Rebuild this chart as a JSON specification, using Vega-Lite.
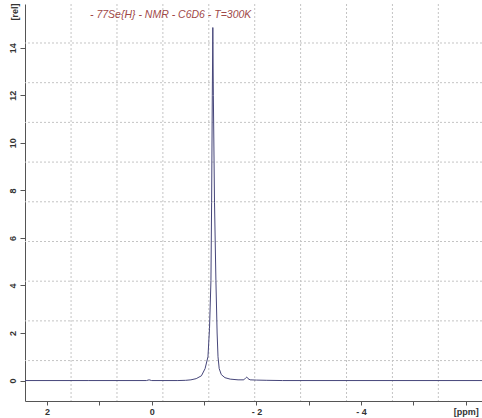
{
  "$schema": "https://vega.github.io/schema/vega-lite/v6.json",
  "width": 457,
  "height": 397,
  "autosize": {"type": "none"},
  "padding": {"left": 25, "top": 4, "right": 0, "bottom": 17},
  "background": "white",
  "config": {"view": {"stroke": null}},
  "title": {
    "text": "- 77Se{H} - NMR - C6D6 - T=300K",
    "anchor": "start",
    "frame": "group",
    "orient": "top",
    "offset": -26,
    "dx": 65,
    "baseline": "alphabetic",
    "font": "Liberation Sans",
    "fontSize": 10.5,
    "fontStyle": "italic",
    "fontWeight": "normal",
    "color": "#a04848"
  },
  "datasets": {
    "spectrum": [
      {"ppm": 2.42, "rel": 0},
      {"ppm": 1.2, "rel": 0},
      {"ppm": 0.1, "rel": 0},
      {"ppm": 0.05, "rel": 0.03},
      {"ppm": 0.0, "rel": 0},
      {"ppm": -0.5, "rel": 0},
      {"ppm": -0.65, "rel": 0.01},
      {"ppm": -0.75, "rel": 0.03},
      {"ppm": -0.85, "rel": 0.08},
      {"ppm": -0.95, "rel": 0.2},
      {"ppm": -1.02, "rel": 0.5},
      {"ppm": -1.075, "rel": 1.0},
      {"ppm": -1.105, "rel": 2.2},
      {"ppm": -1.132, "rel": 4.2},
      {"ppm": -1.145, "rel": 7.5},
      {"ppm": -1.158, "rel": 12},
      {"ppm": -1.168, "rel": 14.85},
      {"ppm": -1.178, "rel": 12},
      {"ppm": -1.2, "rel": 7.5},
      {"ppm": -1.227, "rel": 4.2},
      {"ppm": -1.25, "rel": 2.0},
      {"ppm": -1.267, "rel": 1.0},
      {"ppm": -1.29, "rel": 0.5},
      {"ppm": -1.33, "rel": 0.25},
      {"ppm": -1.4, "rel": 0.12},
      {"ppm": -1.5, "rel": 0.06},
      {"ppm": -1.65, "rel": 0.03},
      {"ppm": -1.76, "rel": 0.03},
      {"ppm": -1.8, "rel": 0.12},
      {"ppm": -1.815, "rel": 0.15},
      {"ppm": -1.84, "rel": 0.08},
      {"ppm": -1.88, "rel": 0.03},
      {"ppm": -2.0, "rel": 0.02},
      {"ppm": -2.2, "rel": 0.01},
      {"ppm": -2.5, "rel": 0},
      {"ppm": -6.31, "rel": 0}
    ],
    "vgrid": [
      {"ppm": 1.54}, {"ppm": 0.663}, {"ppm": -0.214}, {"ppm": -1.091}, {"ppm": -1.968},
      {"ppm": -2.845}, {"ppm": -3.722}, {"ppm": -4.599}, {"ppm": -5.476}
    ],
    "hgrid": [
      {"rel": 0.84}, {"rel": 2.51}, {"rel": 4.18}, {"rel": 5.85}, {"rel": 7.52},
      {"rel": 9.19}, {"rel": 10.86}, {"rel": 12.53}, {"rel": 14.2}
    ]
  },
  "layer": [
    {
      "data": {"name": "vgrid"},
      "mark": {"type": "rule", "color": "#c4c4c4", "strokeWidth": 1, "strokeDash": [2, 2]},
      "encoding": {
        "x": {"field": "ppm", "type": "quantitative", "scale": {"domain": [-6.31, 2.42], "reverse": true, "nice": false, "zero": false}}
      }
    },
    {
      "data": {"name": "hgrid"},
      "mark": {"type": "rule", "color": "#c4c4c4", "strokeWidth": 1, "strokeDash": [2, 2]},
      "encoding": {
        "y": {"field": "rel", "type": "quantitative", "scale": {"domain": [-0.86, 15.84], "nice": false, "zero": false}}
      }
    },
    {
      "data": {"name": "spectrum"},
      "mark": {"type": "line", "color": "#46467a", "strokeWidth": 1, "clip": true},
      "encoding": {
        "x": {
          "field": "ppm",
          "type": "quantitative",
          "scale": {"domain": [-6.31, 2.42], "reverse": true, "nice": false, "zero": false},
          "axis": {
            "title": null,
            "grid": false,
            "values": [2, 1.5, 1, 0.5, 0, -0.5, -1, -1.5, -2, -2.5, -3, -3.5, -4, -4.5, -5, -5.5, -6],
            "labelExpr": "datum.value == -6 ? '[ppm]' : ((datum.value % 2 == 0) ? (datum.value < 0 ? '- ' + (-datum.value) : '' + datum.value) : '')",
            "labelOverlap": false,
            "labelFont": "Liberation Sans",
            "labelFontSize": 9,
            "labelFontWeight": "bold",
            "labelColor": "#333333",
            "labelPadding": 2,
            "labelFlush": false,
            "tickSize": 4,
            "tickColor": "#555555",
            "domainColor": "#555555"
          }
        },
        "y": {
          "field": "rel",
          "type": "quantitative",
          "scale": {"domain": [-0.86, 15.84], "nice": false, "zero": false},
          "axis": {
            "title": "[rel]",
            "titleFont": "Liberation Sans",
            "titleFontSize": 9,
            "titleFontWeight": "bold",
            "titleColor": "#333333",
            "titleAngle": -90,
            "titleAlign": "left",
            "titleBaseline": "middle",
            "titleX": -11,
            "titleY": 16,
            "grid": false,
            "values": [0, 2, 4, 6, 8, 10, 12, 14],
            "labelOverlap": false,
            "labelAngle": -90,
            "labelAlign": "center",
            "labelBaseline": "bottom",
            "labelFont": "Liberation Sans",
            "labelFontSize": 9,
            "labelFontWeight": "bold",
            "labelColor": "#333333",
            "labelPadding": 3,
            "labelFlush": false,
            "tickSize": 5,
            "tickColor": "#555555",
            "domainColor": "#555555"
          }
        }
      }
    }
  ]
}
